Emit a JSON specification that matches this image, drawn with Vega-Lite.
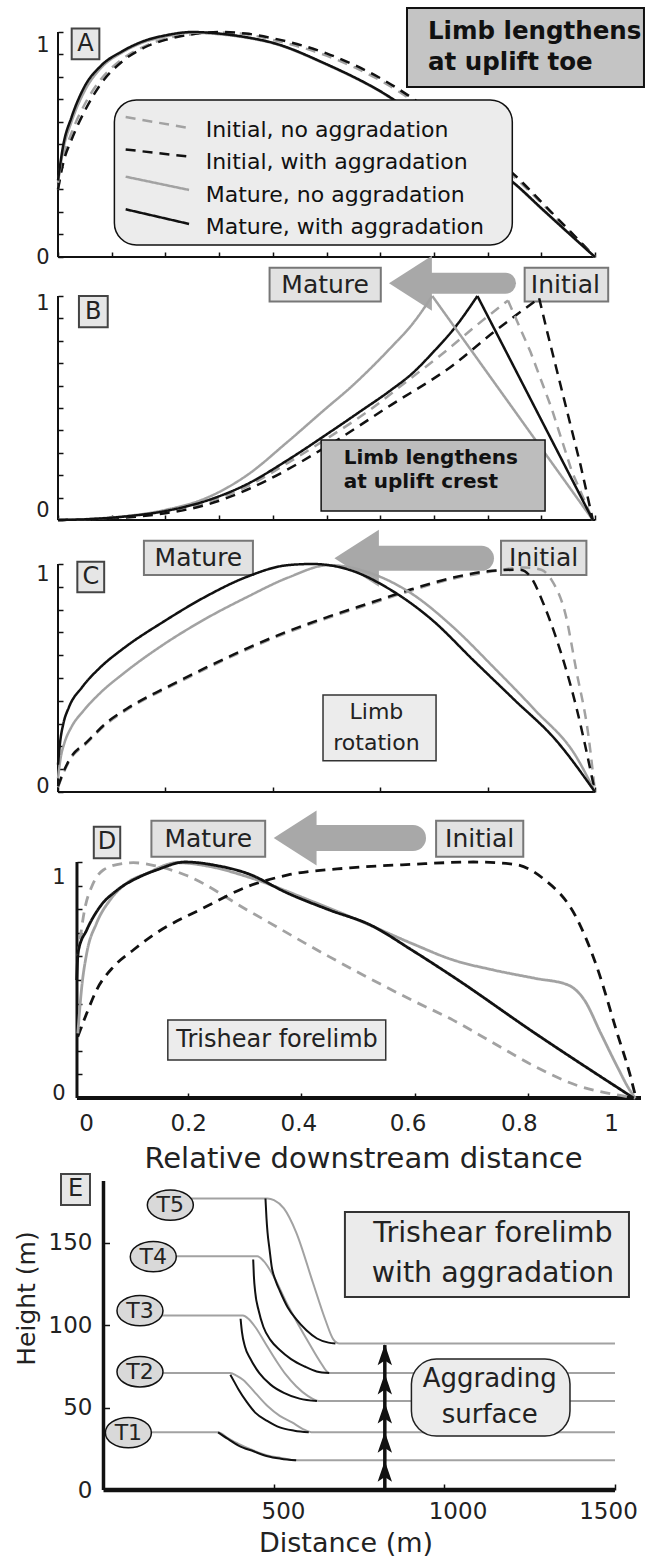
{
"$schema":"https://vega.github.io/schema/vega-lite/v6.json",
"padding":0,
"spacing":0,
"bounds":"flush",
"config":{"font":"DejaVu Sans","view":{"stroke":null},
 "axis":{"grid":false,"labelColor":"#222","titleColor":"#222","tickColor":"#111","tickWidth":1.5,"labelOverlap":false,"labelFlush":false,"labelBound":false,"domain":false}},
"datasets":{
"A":[
{"s":"IN","x":0,"y":0.3},{"s":"IN","x":0.01,"y":0.44},{"s":"IN","x":0.025,"y":0.55},{"s":"IN","x":0.05,"y":0.68},{"s":"IN","x":0.08,"y":0.79},{"s":"IN","x":0.12,"y":0.88},{"s":"IN","x":0.16,"y":0.935},{"s":"IN","x":0.2,"y":0.97},{"s":"IN","x":0.25,"y":0.99},{"s":"IN","x":0.3,"y":0.998},{"s":"IN","x":0.35,"y":0.99},{"s":"IN","x":0.4,"y":0.965},{"s":"IN","x":0.5,"y":0.895},{"s":"IN","x":0.6,"y":0.785},{"s":"IN","x":0.7,"y":0.63},{"s":"IN","x":0.8,"y":0.455},{"s":"IN","x":0.85,"y":0.355},{"s":"IN","x":0.9,"y":0.24},{"s":"IN","x":0.95,"y":0.12},{"s":"IN","x":1,"y":0},
{"s":"IW","x":0,"y":0.3},{"s":"IW","x":0.01,"y":0.42},{"s":"IW","x":0.025,"y":0.52},{"s":"IW","x":0.05,"y":0.65},{"s":"IW","x":0.08,"y":0.77},{"s":"IW","x":0.12,"y":0.87},{"s":"IW","x":0.16,"y":0.93},{"s":"IW","x":0.2,"y":0.965},{"s":"IW","x":0.25,"y":0.99},{"s":"IW","x":0.3,"y":1.0},{"s":"IW","x":0.35,"y":0.993},{"s":"IW","x":0.4,"y":0.972},{"s":"IW","x":0.5,"y":0.905},{"s":"IW","x":0.6,"y":0.795},{"s":"IW","x":0.7,"y":0.64},{"s":"IW","x":0.8,"y":0.465},{"s":"IW","x":0.85,"y":0.365},{"s":"IW","x":0.9,"y":0.245},{"s":"IW","x":0.95,"y":0.123},{"s":"IW","x":1,"y":0},
{"s":"MN","x":0,"y":0.33},{"s":"MN","x":0.01,"y":0.48},{"s":"MN","x":0.025,"y":0.6},{"s":"MN","x":0.05,"y":0.74},{"s":"MN","x":0.08,"y":0.84},{"s":"MN","x":0.12,"y":0.91},{"s":"MN","x":0.16,"y":0.955},{"s":"MN","x":0.2,"y":0.98},{"s":"MN","x":0.25,"y":0.997},{"s":"MN","x":0.3,"y":0.99},{"s":"MN","x":0.35,"y":0.975},{"s":"MN","x":0.4,"y":0.95},{"s":"MN","x":0.5,"y":0.855},{"s":"MN","x":0.6,"y":0.735},{"s":"MN","x":0.7,"y":0.575},{"s":"MN","x":0.8,"y":0.415},{"s":"MN","x":0.85,"y":0.325},{"s":"MN","x":0.9,"y":0.215},{"s":"MN","x":0.95,"y":0.107},{"s":"MN","x":1,"y":0},
{"s":"MW","x":0,"y":0.34},{"s":"MW","x":0.01,"y":0.5},{"s":"MW","x":0.025,"y":0.62},{"s":"MW","x":0.05,"y":0.76},{"s":"MW","x":0.08,"y":0.85},{"s":"MW","x":0.12,"y":0.915},{"s":"MW","x":0.16,"y":0.96},{"s":"MW","x":0.2,"y":0.985},{"s":"MW","x":0.25,"y":1.0},{"s":"MW","x":0.3,"y":0.993},{"s":"MW","x":0.35,"y":0.977},{"s":"MW","x":0.4,"y":0.952},{"s":"MW","x":0.5,"y":0.857},{"s":"MW","x":0.6,"y":0.737},{"s":"MW","x":0.7,"y":0.577},{"s":"MW","x":0.8,"y":0.417},{"s":"MW","x":0.85,"y":0.327},{"s":"MW","x":0.9,"y":0.217},{"s":"MW","x":0.95,"y":0.108},{"s":"MW","x":1,"y":0}
],
"Aleg":[
{"s":"IN","x":0.126,"y":0.622},{"s":"IN","x":0.244,"y":0.573},
{"s":"IW","x":0.126,"y":0.478},{"s":"IW","x":0.244,"y":0.446},
{"s":"MN","x":0.126,"y":0.357},{"s":"MN","x":0.244,"y":0.298},
{"s":"MW","x":0.126,"y":0.212},{"s":"MW","x":0.244,"y":0.147}
],
"B":[
{"s":"IN","p":"r","x":0,"y":0},{"s":"IN","p":"r","x":0.06,"y":0.004},{"s":"IN","p":"r","x":0.122,"y":0.014},{"s":"IN","p":"r","x":0.2,"y":0.038},{"s":"IN","p":"r","x":0.275,"y":0.078},{"s":"IN","p":"r","x":0.352,"y":0.15},{"s":"IN","p":"r","x":0.428,"y":0.255},{"s":"IN","p":"r","x":0.505,"y":0.37},{"s":"IN","p":"r","x":0.58,"y":0.49},{"s":"IN","p":"r","x":0.65,"y":0.62},{"s":"IN","p":"r","x":0.72,"y":0.75},{"s":"IN","p":"r","x":0.78,"y":0.87},{"s":"IN","p":"r","x":0.838,"y":0.98},
{"s":"IN","p":"f","x":0.838,"y":0.98},{"s":"IN","p":"f","x":0.88,"y":0.75},{"s":"IN","p":"f","x":0.919,"y":0.5},{"s":"IN","p":"f","x":0.957,"y":0.216},{"s":"IN","p":"f","x":0.996,"y":0},
{"s":"IW","p":"r","x":0,"y":0},{"s":"IW","p":"r","x":0.06,"y":0.003},{"s":"IW","p":"r","x":0.122,"y":0.01},{"s":"IW","p":"r","x":0.2,"y":0.03},{"s":"IW","p":"r","x":0.275,"y":0.067},{"s":"IW","p":"r","x":0.352,"y":0.135},{"s":"IW","p":"r","x":0.39,"y":0.178},{"s":"IW","p":"r","x":0.505,"y":0.335},{"s":"IW","p":"r","x":0.62,"y":0.513},{"s":"IW","p":"r","x":0.735,"y":0.69},{"s":"IW","p":"r","x":0.812,"y":0.84},{"s":"IW","p":"r","x":0.896,"y":0.99},
{"s":"IW","p":"f","x":0.896,"y":0.99},{"s":"IW","p":"f","x":0.911,"y":0.84},{"s":"IW","p":"f","x":0.942,"y":0.543},{"s":"IW","p":"f","x":0.973,"y":0.246},{"s":"IW","p":"f","x":0.996,"y":0},
{"s":"MN","p":"r","x":0,"y":0},{"s":"MN","p":"r","x":0.06,"y":0.005},{"s":"MN","p":"r","x":0.122,"y":0.016},{"s":"MN","p":"r","x":0.2,"y":0.045},{"s":"MN","p":"r","x":0.275,"y":0.097},{"s":"MN","p":"r","x":0.352,"y":0.2},{"s":"MN","p":"r","x":0.428,"y":0.35},{"s":"MN","p":"r","x":0.5,"y":0.5},{"s":"MN","p":"r","x":0.543,"y":0.588},{"s":"MN","p":"r","x":0.58,"y":0.672},{"s":"MN","p":"r","x":0.62,"y":0.77},{"s":"MN","p":"r","x":0.66,"y":0.875},{"s":"MN","p":"r","x":0.697,"y":1.0},
{"s":"MN","p":"f","x":0.697,"y":1.0},{"s":"MN","p":"f","x":0.996,"y":0},
{"s":"MW","p":"r","x":0,"y":0},{"s":"MW","p":"r","x":0.06,"y":0.004},{"s":"MW","p":"r","x":0.122,"y":0.015},{"s":"MW","p":"r","x":0.2,"y":0.04},{"s":"MW","p":"r","x":0.275,"y":0.085},{"s":"MW","p":"r","x":0.352,"y":0.16},{"s":"MW","p":"r","x":0.428,"y":0.268},{"s":"MW","p":"r","x":0.505,"y":0.39},{"s":"MW","p":"r","x":0.56,"y":0.48},{"s":"MW","p":"r","x":0.62,"y":0.58},{"s":"MW","p":"r","x":0.66,"y":0.655},{"s":"MW","p":"r","x":0.697,"y":0.745},{"s":"MW","p":"r","x":0.74,"y":0.862},{"s":"MW","p":"r","x":0.781,"y":1.0},
{"s":"MW","p":"f","x":0.781,"y":1.0},{"s":"MW","p":"f","x":0.996,"y":0}
],
"C":[
{"s":"IN","x":0,"y":0.02},{"s":"IN","x":0.01,"y":0.082},{"s":"IN","x":0.022,"y":0.14},{"s":"IN","x":0.053,"y":0.213},{"s":"IN","x":0.091,"y":0.3},{"s":"IN","x":0.128,"y":0.36},{"s":"IN","x":0.171,"y":0.418},{"s":"IN","x":0.1985,"y":0.45},{"s":"IN","x":0.275,"y":0.54},{"s":"IN","x":0.352,"y":0.625},{"s":"IN","x":0.428,"y":0.7},{"s":"IN","x":0.505,"y":0.765},{"s":"IN","x":0.582,"y":0.825},{"s":"IN","x":0.658,"y":0.884},{"s":"IN","x":0.735,"y":0.935},{"s":"IN","x":0.81,"y":0.968},{"s":"IN","x":0.87,"y":0.985},{"s":"IN","x":0.9,"y":0.975},{"s":"IN","x":0.919,"y":0.93},{"s":"IN","x":0.945,"y":0.78},{"s":"IN","x":0.965,"y":0.535},{"s":"IN","x":0.988,"y":0.243},{"s":"IN","x":1,"y":0},
{"s":"IW","x":0,"y":0.025},{"s":"IW","x":0.01,"y":0.087},{"s":"IW","x":0.022,"y":0.145},{"s":"IW","x":0.053,"y":0.218},{"s":"IW","x":0.091,"y":0.305},{"s":"IW","x":0.128,"y":0.365},{"s":"IW","x":0.171,"y":0.423},{"s":"IW","x":0.1985,"y":0.455},{"s":"IW","x":0.275,"y":0.545},{"s":"IW","x":0.352,"y":0.63},{"s":"IW","x":0.428,"y":0.705},{"s":"IW","x":0.505,"y":0.77},{"s":"IW","x":0.582,"y":0.83},{"s":"IW","x":0.658,"y":0.889},{"s":"IW","x":0.735,"y":0.94},{"s":"IW","x":0.8,"y":0.968},{"s":"IW","x":0.86,"y":0.975},{"s":"IW","x":0.88,"y":0.944},{"s":"IW","x":0.905,"y":0.82},{"s":"IW","x":0.927,"y":0.68},{"s":"IW","x":0.965,"y":0.374},{"s":"IW","x":1,"y":0},
{"s":"MN","x":0,"y":0.06},{"s":"MN","x":0.005,"y":0.15},{"s":"MN","x":0.012,"y":0.215},{"s":"MN","x":0.025,"y":0.285},{"s":"MN","x":0.047,"y":0.355},{"s":"MN","x":0.078,"y":0.433},{"s":"MN","x":0.122,"y":0.52},{"s":"MN","x":0.1985,"y":0.65},{"s":"MN","x":0.275,"y":0.76},{"s":"MN","x":0.352,"y":0.855},{"s":"MN","x":0.428,"y":0.94},{"s":"MN","x":0.505,"y":0.995},{"s":"MN","x":0.582,"y":0.96},{"s":"MN","x":0.658,"y":0.871},{"s":"MN","x":0.735,"y":0.725},{"s":"MN","x":0.81,"y":0.55},{"s":"MN","x":0.888,"y":0.36},{"s":"MN","x":0.965,"y":0.155},{"s":"MN","x":1,"y":0},
{"s":"MW","x":0,"y":0.12},{"s":"MW","x":0.004,"y":0.22},{"s":"MW","x":0.01,"y":0.3},{"s":"MW","x":0.02,"y":0.37},{"s":"MW","x":0.045,"y":0.46},{"s":"MW","x":0.078,"y":0.545},{"s":"MW","x":0.122,"y":0.63},{"s":"MW","x":0.1985,"y":0.75},{"s":"MW","x":0.275,"y":0.857},{"s":"MW","x":0.352,"y":0.944},{"s":"MW","x":0.428,"y":0.995},{"s":"MW","x":0.474,"y":1.0},{"s":"MW","x":0.543,"y":0.974},{"s":"MW","x":0.62,"y":0.886},{"s":"MW","x":0.697,"y":0.754},{"s":"MW","x":0.773,"y":0.579},{"s":"MW","x":0.85,"y":0.404},{"s":"MW","x":0.927,"y":0.228},{"s":"MW","x":1,"y":0}
],
"D":[
{"s":"IN","x":0.005,"y":0.6},{"s":"IN","x":0.018,"y":0.81},{"s":"IN","x":0.0295,"y":0.895},{"s":"IN","x":0.05,"y":0.966},{"s":"IN","x":0.085,"y":0.994},{"s":"IN","x":0.103,"y":0.997},{"s":"IN","x":0.14,"y":0.985},{"s":"IN","x":0.195,"y":0.945},{"s":"IN","x":0.304,"y":0.797},{"s":"IN","x":0.449,"y":0.599},{"s":"IN","x":0.595,"y":0.415},{"s":"IN","x":0.668,"y":0.33},{"s":"IN","x":0.74,"y":0.232},{"s":"IN","x":0.813,"y":0.133},{"s":"IN","x":0.885,"y":0.055},{"s":"IN","x":0.958,"y":0.013},{"s":"IN","x":0.99,"y":0},
{"s":"IW","x":0.005,"y":0.26},{"s":"IW","x":0.0207,"y":0.359},{"s":"IW","x":0.038,"y":0.457},{"s":"IW","x":0.068,"y":0.556},{"s":"IW","x":0.103,"y":0.627},{"s":"IW","x":0.138,"y":0.69},{"s":"IW","x":0.231,"y":0.81},{"s":"IW","x":0.304,"y":0.895},{"s":"IW","x":0.3765,"y":0.945},{"s":"IW","x":0.4855,"y":0.975},{"s":"IW","x":0.595,"y":0.99},{"s":"IW","x":0.704,"y":1.0},{"s":"IW","x":0.777,"y":0.99},{"s":"IW","x":0.827,"y":0.93},{"s":"IW","x":0.885,"y":0.768},{"s":"IW","x":0.922,"y":0.556},{"s":"IW","x":0.958,"y":0.274},{"s":"IW","x":0.98,"y":0.104},{"s":"IW","x":0.991,"y":0},
{"s":"MN","x":0.005,"y":0.274},{"s":"MN","x":0.012,"y":0.472},{"s":"MN","x":0.0207,"y":0.613},{"s":"MN","x":0.038,"y":0.74},{"s":"MN","x":0.062,"y":0.839},{"s":"MN","x":0.091,"y":0.91},{"s":"MN","x":0.127,"y":0.952},{"s":"MN","x":0.18,"y":0.997},{"s":"MN","x":0.24,"y":0.98},{"s":"MN","x":0.304,"y":0.938},{"s":"MN","x":0.413,"y":0.839},{"s":"MN","x":0.507,"y":0.747},{"s":"MN","x":0.595,"y":0.655},{"s":"MN","x":0.668,"y":0.585},{"s":"MN","x":0.74,"y":0.542},{"s":"MN","x":0.813,"y":0.507},{"s":"MN","x":0.871,"y":0.479},{"s":"MN","x":0.9,"y":0.415},{"s":"MN","x":0.929,"y":0.274},{"s":"MN","x":0.958,"y":0.133},{"s":"MN","x":0.98,"y":0.034},{"s":"MN","x":0.99,"y":0},
{"s":"MW","x":0.003,"y":0.5},{"s":"MW","x":0.0056,"y":0.62},{"s":"MW","x":0.0207,"y":0.712},{"s":"MW","x":0.044,"y":0.81},{"s":"MW","x":0.074,"y":0.88},{"s":"MW","x":0.115,"y":0.938},{"s":"MW","x":0.144,"y":0.966},{"s":"MW","x":0.195,"y":1.0},{"s":"MW","x":0.25,"y":0.985},{"s":"MW","x":0.304,"y":0.952},{"s":"MW","x":0.3765,"y":0.867},{"s":"MW","x":0.449,"y":0.797},{"s":"MW","x":0.522,"y":0.733},{"s":"MW","x":0.595,"y":0.627},{"s":"MW","x":0.668,"y":0.514},{"s":"MW","x":0.813,"y":0.274},{"s":"MW","x":0.987,"y":0}
],
"E":[
{"s":"T5g","k":"g","x":196,"y":177},{"s":"T5g","k":"g","x":481,"y":177},{"s":"T5g","k":"g","x":500,"y":176},{"s":"T5g","k":"g","x":529,"y":171},{"s":"T5g","k":"g","x":565,"y":156.5},{"s":"T5g","k":"g","x":614,"y":126},{"s":"T5g","k":"g","x":650,"y":103.7},{"s":"T5g","k":"g","x":674,"y":91.5},{"s":"T5g","k":"g","x":692,"y":89},{"s":"T5g","k":"g","x":1500,"y":89},
{"s":"T4g","k":"g","x":146,"y":142},{"s":"T4g","k":"g","x":451,"y":142},{"s":"T4g","k":"g","x":470,"y":139},{"s":"T4g","k":"g","x":493,"y":132},{"s":"T4g","k":"g","x":541,"y":112},{"s":"T4g","k":"g","x":570,"y":101},{"s":"T4g","k":"g","x":602,"y":89.4},{"s":"T4g","k":"g","x":635,"y":78},{"s":"T4g","k":"g","x":662,"y":71},{"s":"T4g","k":"g","x":1500,"y":71},
{"s":"T3g","k":"g","x":107,"y":106},{"s":"T3g","k":"g","x":409,"y":106},{"s":"T3g","k":"g","x":425,"y":104},{"s":"T3g","k":"g","x":445,"y":99},{"s":"T3g","k":"g","x":475,"y":89},{"s":"T3g","k":"g","x":505,"y":79},{"s":"T3g","k":"g","x":535,"y":70},{"s":"T3g","k":"g","x":565,"y":63},{"s":"T3g","k":"g","x":600,"y":57},{"s":"T3g","k":"g","x":632,"y":54},{"s":"T3g","k":"g","x":1500,"y":54},
{"s":"T2g","k":"g","x":107,"y":71},{"s":"T2g","k":"g","x":372,"y":71},{"s":"T2g","k":"g","x":390,"y":69.5},{"s":"T2g","k":"g","x":409,"y":67},{"s":"T2g","k":"g","x":445,"y":59},{"s":"T2g","k":"g","x":481,"y":51},{"s":"T2g","k":"g","x":517,"y":45},{"s":"T2g","k":"g","x":553,"y":41},{"s":"T2g","k":"g","x":585,"y":37},{"s":"T2g","k":"g","x":614,"y":35},{"s":"T2g","k":"g","x":1500,"y":35},
{"s":"T1g","k":"g","x":73,"y":35},{"s":"T1g","k":"g","x":336,"y":35},{"s":"T1g","k":"g","x":365,"y":31.5},{"s":"T1g","k":"g","x":396,"y":28},{"s":"T1g","k":"g","x":440,"y":24},{"s":"T1g","k":"g","x":481,"y":21},{"s":"T1g","k":"g","x":520,"y":19.5},{"s":"T1g","k":"g","x":565,"y":18},{"s":"T1g","k":"g","x":1500,"y":18},
{"s":"T5b","k":"b","x":475,"y":177},{"s":"T5b","k":"b","x":478,"y":165},{"s":"T5b","k":"b","x":481,"y":156.5},{"s":"T5b","k":"b","x":487,"y":146},{"s":"T5b","k":"b","x":493,"y":136},{"s":"T5b","k":"b","x":505,"y":127},{"s":"T5b","k":"b","x":517,"y":121},{"s":"T5b","k":"b","x":540,"y":111},{"s":"T5b","k":"b","x":565,"y":103.7},{"s":"T5b","k":"b","x":595,"y":97},{"s":"T5b","k":"b","x":626,"y":92},{"s":"T5b","k":"b","x":660,"y":89.5},{"s":"T5b","k":"b","x":680,"y":89},
{"s":"T4b","k":"b","x":439,"y":140},{"s":"T4b","k":"b","x":441,"y":130},{"s":"T4b","k":"b","x":445,"y":120},{"s":"T4b","k":"b","x":455,"y":109},{"s":"T4b","k":"b","x":469,"y":99},{"s":"T4b","k":"b","x":490,"y":91},{"s":"T4b","k":"b","x":517,"y":85},{"s":"T4b","k":"b","x":550,"y":79.5},{"s":"T4b","k":"b","x":590,"y":75},{"s":"T4b","k":"b","x":625,"y":72},{"s":"T4b","k":"b","x":662,"y":71},
{"s":"T3b","k":"b","x":402,"y":104},{"s":"T3b","k":"b","x":406,"y":96},{"s":"T3b","k":"b","x":415,"y":87},{"s":"T3b","k":"b","x":430,"y":80},{"s":"T3b","k":"b","x":457,"y":71},{"s":"T3b","k":"b","x":490,"y":64},{"s":"T3b","k":"b","x":529,"y":59},{"s":"T3b","k":"b","x":575,"y":55.5},{"s":"T3b","k":"b","x":626,"y":54},
{"s":"T2b","k":"b","x":372,"y":70},{"s":"T2b","k":"b","x":384,"y":65.5},{"s":"T2b","k":"b","x":396,"y":61},{"s":"T2b","k":"b","x":420,"y":53.5},{"s":"T2b","k":"b","x":445,"y":47},{"s":"T2b","k":"b","x":480,"y":42},{"s":"T2b","k":"b","x":517,"y":38},{"s":"T2b","k":"b","x":560,"y":36},{"s":"T2b","k":"b","x":602,"y":35},
{"s":"T1b","k":"b","x":336,"y":35},{"s":"T1b","k":"b","x":365,"y":31},{"s":"T1b","k":"b","x":396,"y":27},{"s":"T1b","k":"b","x":440,"y":23.5},{"s":"T1b","k":"b","x":481,"y":20.5},{"s":"T1b","k":"b","x":520,"y":19},{"s":"T1b","k":"b","x":565,"y":18}
]
},
"vconcat":[
{
 "width":645,"height":257,
 "resolve":{"axis":{"x":"independent","y":"independent"}},
 "layer":[
  {"encoding":{
    "x":{"datum":0,"type":"quantitative","axis":{"orient":"top","offset":-257,"values":[0,0.1,0.2,0.3,0.4,0.5,0.6,0.7,0.8,0.9,1],"labels":false,"tickSize":5,"title":null}},
    "y":{"datum":0,"type":"quantitative","axis":{"orient":"right","offset":-587,"values":[0,0.1,0.2,0.3,0.4,0.5,0.6,0.7,0.8,0.9,1],"labels":false,"tickSize":5,"title":null}}},
   "layer":[
    {"data":{"values":[{}]},"mark":{"type":"rule","color":"#111","strokeWidth":2},"encoding":{"y2":{"datum":1}}},
    {"data":{"values":[{}]},"mark":{"type":"rule","color":"#111","strokeWidth":2},"encoding":{"x2":{"datum":1}}}
   ]},
  {
   "encoding":{
    "x":{"field":"x","type":"quantitative","scale":{"domain":[-0.10801,1.09311],"nice":false,"zero":false},"axis":null},
    "y":{"field":"y","type":"quantitative","scale":{"domain":[0,1.14222],"nice":false,"zero":false},
     "axis":{"values":[0,1],"offset":-58,"ticks":false,"tickSize":0,"labelFontSize":21,"labelPadding":9,"format":"d",
      "labelOffset":{"condition":{"test":"datum.value == 1","value":14},"value":0},"title":null}}
   },
   "layer":[
    {"data":{"name":"A"},"mark":{"type":"line","strokeWidth":2.5,"interpolate":"monotone"},
     "encoding":{"color":{"field":"s","type":"nominal","scale":{"domain":["IN","IW","MN","MW"],"range":["#a2a2a2","#111111","#a2a2a2","#111111"]},"legend":null},
      "strokeDash":{"field":"s","type":"nominal","scale":{"domain":["IN","IW","MN","MW"],"range":[[10,7],[10,7],[1,0],[1,0]]},"legend":null}}},
    {"data":{"values":[{"x":0.105,"x2":0.846,"y":0.698,"y2":0.0533}]},"mark":{"type":"rect","fill":"#ececec","stroke":"#111","strokeWidth":1.5,"cornerRadius":22},"encoding":{"x2":{"field":"x2"},"y2":{"field":"y2"}}},
    {"data":{"name":"Aleg"},"mark":{"type":"line","strokeWidth":2.5},
     "encoding":{"color":{"field":"s","type":"nominal","legend":null},"strokeDash":{"field":"s","type":"nominal","legend":null}}},
    {"data":{"values":[{"t":"Initial, no aggradation","x":0.275,"y":0.564},{"t":"Initial, with aggradation","x":0.275,"y":0.4236},{"t":"Mature, no aggradation","x":0.275,"y":0.2756},{"t":"Mature, with aggradation","x":0.275,"y":0.1347}]},
     "mark":{"type":"text","align":"left","baseline":"middle","fontSize":22,"color":"#111"},"encoding":{"text":{"field":"t"}}},
    {"data":{"values":[{"x":0.6499,"x2":1.0912,"y":1.1067,"y2":0.7556}]},"mark":{"type":"rect","fill":"#c4c4c4","stroke":"#111","strokeWidth":2},"encoding":{"x2":{"field":"x2"},"y2":{"field":"y2"}}},
    {"data":{"values":[{"t":"Limb lengthens","x":0.689,"y":1.0},{"t":"at uplift toe","x":0.689,"y":0.862}]},
     "mark":{"type":"text","align":"left","baseline":"middle","fontSize":24.5,"fontWeight":"bold","color":"#111"},"encoding":{"text":{"field":"t"}}},
    {"data":{"values":[{"x":0.0255,"x2":0.077,"y":1.016,"y2":0.879}]},"mark":{"type":"rect","fill":"#e6e6e6","stroke":"#444","strokeWidth":2},"encoding":{"x2":{"field":"x2"},"y2":{"field":"y2"}}},
    {"data":{"values":[{"t":"A","x":0.0513,"y":0.9475}]},"mark":{"type":"text","align":"center","baseline":"middle","fontSize":24,"color":"#222"},"encoding":{"text":{"field":"t"}}}
   ]
  }
 ]
},
{
 "width":645,"height":263,
 "resolve":{"axis":{"x":"independent","y":"independent"}},
 "layer":[
  {"encoding":{
    "x":{"datum":0,"type":"quantitative","axis":{"orient":"top","offset":-263,"values":[0,0.1,0.2,0.3,0.4,0.5,0.6,0.7,0.8,0.9,1],"labels":false,"tickSize":5,"title":null}},
    "y":{"datum":0,"type":"quantitative","axis":{"orient":"right","offset":-587,"values":[0,0.1,0.2,0.3,0.4,0.5,0.6,0.7,0.8,0.9,1],"labels":false,"tickSize":5,"title":null}}},
   "layer":[
    {"data":{"values":[{}]},"mark":{"type":"rule","color":"#111","strokeWidth":2},"encoding":{"y2":{"datum":1}}},
    {"data":{"values":[{}]},"mark":{"type":"rule","color":"#111","strokeWidth":2},"encoding":{"x2":{"datum":1}}}
   ]},
  {
   "encoding":{
    "x":{"field":"x","type":"quantitative","scale":{"domain":[-0.10801,1.09311],"nice":false,"zero":false},"axis":null},
    "y":{"field":"y","type":"quantitative","scale":{"domain":[0,1.17411],"nice":false,"zero":false},
     "axis":{"values":[0,1],"offset":-58,"ticks":false,"tickSize":0,"labelFontSize":21,"labelPadding":9,"format":"d",
      "labelOffset":{"condition":[{"test":"datum.value == 1","value":7},{"test":"datum.value == 0","value":-10}],"value":0},"title":null}}
   },
   "layer":[
    {"data":{"values":[{"x":0.394,"x2":0.6011,"y":1.126,"y2":0.975},{"x":0.869,"x2":1.0246,"y":1.126,"y2":0.975}]},"mark":{"type":"rect","fill":"#e2e2e2","stroke":"#777","strokeWidth":2},"encoding":{"x2":{"field":"x2"},"y2":{"field":"y2"}}},
    {"data":{"values":[{"x":0.6676,"x2":0.8333,"y":1.057}]},"mark":{"type":"rule","color":"#a8a8a8","strokeWidth":21,"strokeCap":"round"},"encoding":{"x2":{"field":"x2"}}},
    {"data":{"values":[{"x":0.6676,"y":1.057}]},"mark":{"type":"point","shape":"M0.56,-1L-1,0L0.56,1Z","size":3025,"filled":true,"color":"#a8a8a8","opacity":1}},
    {"data":{"name":"B"},"transform":[{"filter":"datum.p == 'r'"}],"mark":{"type":"line","strokeWidth":2.5,"interpolate":"monotone"},
     "encoding":{"color":{"field":"s","type":"nominal","scale":{"domain":["IN","IW","MN","MW"],"range":["#a2a2a2","#111111","#a2a2a2","#111111"]},"legend":null},
      "strokeDash":{"field":"s","type":"nominal","scale":{"domain":["IN","IW","MN","MW"],"range":[[10,7],[10,7],[1,0],[1,0]]},"legend":null}}},
    {"data":{"name":"B"},"transform":[{"filter":"datum.p == 'f'"}],"mark":{"type":"line","strokeWidth":2.5},
     "encoding":{"color":{"field":"s","type":"nominal","legend":null},"strokeDash":{"field":"s","type":"nominal","legend":null}}},
    {"data":{"values":[{"x":0.49,"x2":0.907,"y":0.357,"y2":0.04}]},"mark":{"type":"rect","fill":"#bdbdbd","stroke":"#111","strokeWidth":1.5},"encoding":{"x2":{"field":"x2"},"y2":{"field":"y2"}}},
    {"data":{"values":[{"t":"Limb lengthens","x":0.532,"y":0.277},{"t":"at uplift crest","x":0.532,"y":0.171}]},
     "mark":{"type":"text","align":"left","baseline":"middle","fontSize":20,"fontWeight":"bold","color":"#111"},"encoding":{"text":{"field":"t"}}},
    {"data":{"values":[{"t":"Mature","x":0.4975,"y":1.05},{"t":"Initial","x":0.945,"y":1.05}]},
     "mark":{"type":"text","align":"center","baseline":"middle","fontSize":25,"color":"#222"},"encoding":{"text":{"field":"t"}}},
    {"data":{"values":[{"x":0.039,"x2":0.0926,"y":1.0,"y2":0.86}]},"mark":{"type":"rect","fill":"#e6e6e6","stroke":"#444","strokeWidth":2},"encoding":{"x2":{"field":"x2"},"y2":{"field":"y2"}}},
    {"data":{"values":[{"t":"B","x":0.0658,"y":0.93}]},"mark":{"type":"text","align":"center","baseline":"middle","fontSize":24,"color":"#222"},"encoding":{"text":{"field":"t"}}}
   ]
  }
 ]
},
{
 "width":645,"height":272,
 "resolve":{"axis":{"x":"independent","y":"independent"}},
 "layer":[
  {"encoding":{
    "x":{"datum":0,"type":"quantitative","axis":{"orient":"top","offset":-272,"values":[0,0.2,0.4,0.6,0.8,1],"labels":false,"tickSize":5,"title":null}},
    "y":{"datum":0,"type":"quantitative","axis":{"orient":"right","offset":-587,"values":[0,0.1,0.2,0.3,0.4,0.5,0.6,0.7,0.8,0.9,1],"labels":false,"tickSize":5,"title":null}}},
   "layer":[
    {"data":{"values":[{}]},"mark":{"type":"rule","color":"#111","strokeWidth":2},"encoding":{"y2":{"datum":1}}},
    {"data":{"values":[{}]},"mark":{"type":"rule","color":"#111","strokeWidth":2},"encoding":{"x2":{"datum":1}}}
   ]},
  {
   "encoding":{
    "x":{"field":"x","type":"quantitative","scale":{"domain":[-0.10801,1.09311],"nice":false,"zero":false},"axis":null},
    "y":{"field":"y","type":"quantitative","scale":{"domain":[0,1.19298],"nice":false,"zero":false},
     "axis":{"values":[0,1],"offset":-58,"ticks":false,"tickSize":0,"labelFontSize":21,"labelPadding":9,"format":"d",
      "labelOffset":{"condition":[{"test":"datum.value == 1","value":11},{"test":"datum.value == 0","value":-6}],"value":0},"title":null}}
   },
   "layer":[
    {"data":{"values":[{"x":0.16,"x2":0.363,"y":1.102,"y2":0.952},{"x":0.825,"x2":0.984,"y":1.102,"y2":0.952}]},"mark":{"type":"rect","fill":"#e2e2e2","stroke":"#777","strokeWidth":2},"encoding":{"x2":{"field":"x2"},"y2":{"field":"y2"}}},
    {"data":{"values":[{"x":0.5678,"x2":0.7886,"y":1.025}]},"mark":{"type":"rule","color":"#a8a8a8","strokeWidth":25,"strokeCap":"round"},"encoding":{"x2":{"field":"x2"}}},
    {"data":{"values":[{"x":0.5678,"y":1.025}]},"mark":{"type":"point","shape":"M0.56,-1L-1,0L0.56,1Z","size":3249,"filled":true,"color":"#a8a8a8","opacity":1}},
    {"data":{"name":"C"},"mark":{"type":"line","strokeWidth":2.5,"interpolate":"monotone"},
     "encoding":{"color":{"field":"s","type":"nominal","scale":{"domain":["IN","IW","MN","MW"],"range":["#a2a2a2","#111111","#a2a2a2","#111111"]},"legend":null},
      "strokeDash":{"field":"s","type":"nominal","scale":{"domain":["IN","IW","MN","MW"],"range":[[10,7],[10,7],[1,0],[1,0]]},"legend":null}}},
    {"data":{"values":[{"x":0.4935,"x2":0.704,"y":0.425,"y2":0.137}]},"mark":{"type":"rect","fill":"#ececec","stroke":"#333","strokeWidth":1.5},"encoding":{"x2":{"field":"x2"},"y2":{"field":"y2"}}},
    {"data":{"values":[{"t":"Limb","x":0.593,"y":0.352},{"t":"rotation","x":0.593,"y":0.2135}]},
     "mark":{"type":"text","align":"center","baseline":"middle","fontSize":22,"color":"#222"},"encoding":{"text":{"field":"t"}}},
    {"data":{"values":[{"t":"Mature","x":0.2615,"y":1.027},{"t":"Initial","x":0.9045,"y":1.027}]},
     "mark":{"type":"text","align":"center","baseline":"middle","fontSize":25,"color":"#222"},"encoding":{"text":{"field":"t"}}},
    {"data":{"values":[{"x":0.036,"x2":0.086,"y":1.01,"y2":0.876}]},"mark":{"type":"rect","fill":"#e6e6e6","stroke":"#444","strokeWidth":2},"encoding":{"x2":{"field":"x2"},"y2":{"field":"y2"}}},
    {"data":{"values":[{"t":"C","x":0.061,"y":0.943}]},"mark":{"type":"text","align":"center","baseline":"middle","fontSize":24,"color":"#222"},"encoding":{"text":{"field":"t"}}}
   ]
  }
 ]
},
{
 "width":645,"height":306,
 "resolve":{"axis":{"x":"independent","y":"independent"}},
 "layer":[
  {"encoding":{
    "x":{"datum":0.0035,"type":"quantitative","axis":{"orient":"top","offset":-306,"values":[0.2,0.4,0.6,0.8],"labels":false,"tickSize":5,"title":null}},
    "y":{"datum":0,"type":"quantitative","axis":{"orient":"right","offset":-568,"values":[0,0.1,0.2,0.3,0.4,0.5,0.6,0.7,0.8,0.9,1],"labels":false,"tickSize":5,"title":null}}},
   "layer":[
    {"data":{"values":[{}]},"mark":{"type":"rule","color":"#111","strokeWidth":3},"encoding":{"y2":{"datum":1}}},
    {"data":{"values":[{}]},"mark":{"type":"rule","color":"#111","strokeWidth":4},"encoding":{"x2":{"datum":1}}}
   ]},
  {
   "encoding":{
    "x":{"field":"x","type":"quantitative","scale":{"domain":[-0.13251,1.00707],"nice":false,"zero":false},
     "axis":{"values":[0,0.2,0.4,0.6,0.8,1],"format":"~g","ticks":false,"tickSize":0,"labelFontSize":23,"labelPadding":14,
      "labelOffset":{"condition":[{"test":"datum.value == 0","value":11},{"test":"datum.value == 0.4","value":-3},{"test":"datum.value == 0.6","value":-7},{"test":"datum.value == 0.8","value":-9},{"test":"datum.value == 1","value":-30}],"value":0},
      "title":"Relative downstream distance","titleFontSize":29,"titleFontWeight":"normal","titleX":363,"titleY":60,"titleBaseline":"middle","titleAlign":"center"}},
    "y":{"field":"y","type":"quantitative","scale":{"domain":[0,1.29661],"nice":false,"zero":false},
     "axis":{"values":[0,1],"offset":-77,"ticks":false,"tickSize":0,"labelFontSize":21,"labelPadding":12,"format":"d",
      "labelOffset":{"condition":[{"test":"datum.value == 1","value":15},{"test":"datum.value == 0","value":-5}],"value":0},"title":null}}
   },
   "layer":[
    {"data":{"values":[{"x":0.135,"x2":0.336,"y":1.175,"y2":1.0225},{"x":0.638,"x2":0.792,"y":1.175,"y2":1.0225}]},"mark":{"type":"rect","fill":"#e2e2e2","stroke":"#777","strokeWidth":2},"encoding":{"x2":{"field":"x2"},"y2":{"field":"y2"}}},
    {"data":{"values":[{"x":0.3996,"x2":0.5972,"y":1.1017}]},"mark":{"type":"rule","color":"#a8a8a8","strokeWidth":26,"strokeCap":"round"},"encoding":{"x2":{"field":"x2"}}},
    {"data":{"values":[{"x":0.3996,"y":1.1017}]},"mark":{"type":"point","shape":"M0.56,-1L-1,0L0.56,1Z","size":3025,"filled":true,"color":"#a8a8a8","opacity":1}},
    {"data":{"name":"D"},"mark":{"type":"line","strokeWidth":2.8,"interpolate":"monotone"},
     "encoding":{"color":{"field":"s","type":"nominal","scale":{"domain":["IN","IW","MN","MW"],"range":["#a2a2a2","#111111","#a2a2a2","#111111"]},"legend":null},
      "strokeDash":{"field":"s","type":"nominal","scale":{"domain":["IN","IW","MN","MW"],"range":[[11,8],[11,8],[1,0],[1,0]]},"legend":null}}},
    {"data":{"values":[{"x":0.164,"x2":0.549,"y":0.3305,"y2":0.161}]},"mark":{"type":"rect","fill":"#ececec","stroke":"#333","strokeWidth":1.5},"encoding":{"x2":{"field":"x2"},"y2":{"field":"y2"}}},
    {"data":{"values":[{"t":"Trishear forelimb","x":0.357,"y":0.2458}]},
     "mark":{"type":"text","align":"center","baseline":"middle","fontSize":24,"color":"#222"},"encoding":{"text":{"field":"t"}}},
    {"data":{"values":[{"t":"Mature","x":0.2355,"y":1.099},{"t":"Initial","x":0.715,"y":1.099}]},
     "mark":{"type":"text","align":"center","baseline":"middle","fontSize":25,"color":"#222"},"encoding":{"text":{"field":"t"}}},
    {"data":{"values":[{"x":0.0332,"x2":0.0799,"y":1.1496,"y2":1.0157}]},"mark":{"type":"rect","fill":"#e6e6e6","stroke":"#444","strokeWidth":2},"encoding":{"x2":{"field":"x2"},"y2":{"field":"y2"}}},
    {"data":{"values":[{"t":"D","x":0.0566,"y":1.083}]},"mark":{"type":"text","align":"center","baseline":"middle","fontSize":24,"color":"#222"},"encoding":{"text":{"field":"t"}}}
   ]
  }
 ]
},
{
 "width":645,"height":392,
 "resolve":{"axis":{"x":"independent","y":"independent"}},
 "layer":[
  {"encoding":{
    "x":{"datum":0,"type":"quantitative","axis":{"orient":"top","offset":-392,"values":[500,1000,1500],"labels":false,"tickSize":6,"title":null}},
    "y":{"datum":0,"type":"quantitative","axis":{"orient":"right","offset":-541.5,"values":[50,100,150],"labels":false,"tickSize":6,"title":null}}},
   "layer":[
    {"data":{"values":[{}]},"mark":{"type":"rule","color":"#111","strokeWidth":3.5},"encoding":{"y2":{"datum":187.6}}},
    {"data":{"values":[{}]},"mark":{"type":"rule","color":"#111","strokeWidth":4.5},"encoding":{"x2":{"datum":1500}}}
   ]},
  {
   "encoding":{
    "x":{"field":"x","type":"quantitative","scale":{"domain":[-303.5,1588],"nice":false,"zero":false},
     "axis":{"values":[500,1000,1500],"format":"d","ticks":false,"tickSize":0,"labelFontSize":23,"labelPadding":10,
      "labelOffset":{"condition":[{"test":"datum.value == 500","value":9},{"test":"datum.value == 1000","value":13},{"test":"datum.value == 1500","value":-7}],"value":0},
      "title":"Distance (m)","titleFontSize":27,"titleFontWeight":"normal","titleX":345.5,"titleY":53,"titleBaseline":"middle","titleAlign":"center"}},
    "y":{"field":"y","type":"quantitative","scale":{"domain":[0,238.05],"nice":false,"zero":false},
     "axis":{"values":[0,50,100,150],"format":"d","offset":-103.5,"ticks":false,"tickSize":0,"labelFontSize":23,"labelPadding":11.5,
      "title":"Height (m)","titleFontSize":25,"titleFontWeight":"normal","titleX":-77.5,"titleY":200,"titleAngle":-90,"titleBaseline":"middle","titleAlign":"center"}}
   },
   "layer":[
    {"data":{"name":"E"},"mark":{"type":"line","strokeWidth":2,"interpolate":"monotone"},
     "encoding":{"color":{"field":"k","type":"nominal","scale":{"domain":["g","b"],"range":["#9a9a9a","#111111"]},"legend":null},"detail":{"field":"s"}}},
    {"data":{"values":[{"x":825,"y":0,"y2":88}]},"mark":{"type":"rule","color":"#111","strokeWidth":3.5},"encoding":{"y2":{"field":"y2"}}},
    {"data":{"values":[{"x":825,"y":17.7},{"x":825,"y":35.4},{"x":825,"y":53.1},{"x":825,"y":70.8},{"x":825,"y":88.5}]},
     "mark":{"type":"point","shape":"M0,-1L0.6,0.75L0,0.35L-0.6,0.75Z","size":576,"filled":true,"color":"#111","opacity":1,"yOffset":12}},
    {"data":{"values":[{"x":196,"y":173},{"x":146,"y":141.7},{"x":107,"y":108.9},{"x":107,"y":71.8},{"x":73,"y":34.8}]},
     "mark":{"type":"point","shape":"M-1,0A1,0.66,0,1,0,1,0A1,0.66,0,1,0,-1,0Z","size":2116,"filled":true,"fill":"#d9d9d9","stroke":"#111","strokeWidth":1.5,"opacity":1}},
    {"data":{"values":[{"t":"T5","x":196,"y":173},{"t":"T4","x":146,"y":141.7},{"t":"T3","x":107,"y":108.9},{"t":"T2","x":107,"y":71.8},{"t":"T1","x":73,"y":34.8}]},
     "mark":{"type":"text","align":"center","baseline":"middle","fontSize":22,"color":"#222"},"encoding":{"text":{"field":"t"}}},
    {"data":{"values":[{"x":708,"x2":1541,"y":168.8,"y2":117.2}]},"mark":{"type":"rect","fill":"#ebebeb","stroke":"#333","strokeWidth":2},"encoding":{"x2":{"field":"x2"},"y2":{"field":"y2"}}},
    {"data":{"values":[{"t":"Trishear forelimb","x":1142,"y":156},{"t":"with aggradation","x":1142,"y":131.8}]},
     "mark":{"type":"text","align":"center","baseline":"middle","fontSize":28.5,"color":"#222"},"encoding":{"text":{"field":"t"}}},
    {"data":{"values":[{"x":903,"x2":1368,"y":79.5,"y2":32.8}]},"mark":{"type":"rect","fill":"#ececec","stroke":"#222","strokeWidth":1.5,"cornerRadius":25},"encoding":{"x2":{"field":"x2"},"y2":{"field":"y2"}}},
    {"data":{"values":[{"t":"Aggrading","x":1132.6,"y":67.2},{"t":"surface","x":1132.6,"y":45.5}]},
     "mark":{"type":"text","align":"center","baseline":"middle","fontSize":26,"color":"#222"},"encoding":{"text":{"field":"t"}}},
    {"data":{"values":[{"x":-124.6,"x2":-39.6,"y":191.9,"y2":173.1}]},"mark":{"type":"rect","fill":"#e6e6e6","stroke":"#444","strokeWidth":2},"encoding":{"x2":{"field":"x2"},"y2":{"field":"y2"}}},
    {"data":{"values":[{"t":"E","x":-82,"y":182.5}]},"mark":{"type":"text","align":"center","baseline":"middle","fontSize":24,"color":"#222"},"encoding":{"text":{"field":"t"}}}
   ]
  }
 ]
}
]
}
